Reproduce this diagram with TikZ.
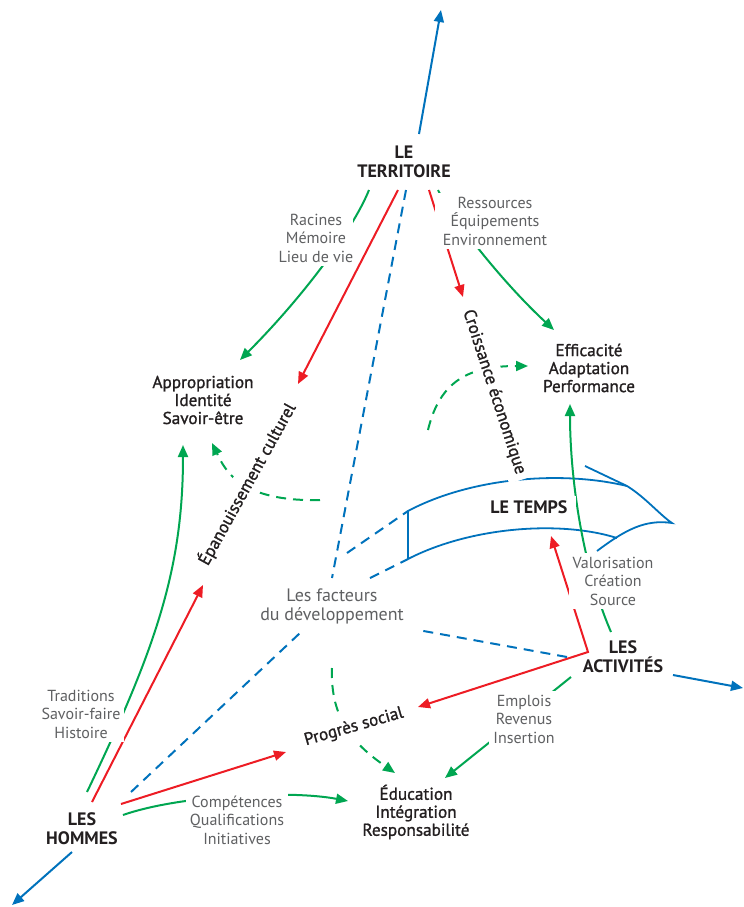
\documentclass[tikz,border=0pt]{standalone}
\usepackage{fontspec}
\setmainfont{PT Sans}
\newfontfamily\medfont[FakeBold=1.2]{PT Sans}
\usetikzlibrary{arrows.meta,calc,backgrounds}

\definecolor{rouge}{RGB}{237,28,36}
\definecolor{vert}{RGB}{0,166,81}
\definecolor{bleu}{RGB}{0,114,188}
\definecolor{noir}{RGB}{35,31,32}
\definecolor{gris}{RGB}{95,96,98}

\begin{document}
\begin{tikzpicture}[x=0.5pt,y=-0.5pt,
    pole/.style={font=\bfseries\fontsize{9}{9.5}\selectfont,text=noir,align=center,inner sep=1pt},
    valeur/.style={font=\medfont\fontsize{8.6}{9}\selectfont,text=noir,align=center,inner sep=1pt},
    axe/.style={valeur,fill=white,inner sep=3pt},
    note/.style={font=\fontsize{8}{9.25}\selectfont,text=gris,align=center,fill=white,inner sep=2pt},
    fl/.style={-{Triangle[length=6pt,width=5pt]}},
    rline/.style={draw=rouge,line width=1pt},
    gline/.style={draw=vert,line width=1pt},
    bline/.style={draw=bleu,line width=1pt},
    bdash/.style={bline,dash pattern=on 5pt off 3.5pt},
    gdash/.style={gline,dash pattern=on 5pt off 3.5pt},
    band/.style={draw=bleu,line width=0.9pt}]

    \useasboundingbox (0,0) rectangle (744,907);

    \node[pole] (T) at (404,162) {LE\\TERRITOIRE};
    \node[pole] (H) at (82,829) {LES\\HOMMES};
    \node[pole] (AC) at (623,657) {LES\\ACTIVITÉS};
    \node[pole,fill=white,inner xsep=4pt,inner ysep=2pt] (LT) at (529,507) {LE TEMPS};
    \node[font=\fontsize{9}{9.5}\selectfont,text=gris,align=center] (F) at (332,606) {Les facteurs\\du développement};

    \node[valeur] (AP) at (203,400) {Appropriation\\Identité\\Savoir-être};
    \node[valeur] (EF) at (589,368) {Efficacité\\Adaptation\\Performance};
    \node[valeur] (ED) at (416,812) {Éducation\\Intégration\\Responsabilité};

    \node[axe,rotate=61] (EP) at (247,484) {Épanouissement culturel};
    \node[axe,rotate=-72] (CR) at (494,392) {Croissance économique};
    \node[axe,rotate=16] (PS) at (354,727) {Progrès social};

    \node[note,inner xsep=0pt] (N1) at (316,238) {Racines\\Mémoire\\Lieu de vie};
    \node[note,inner xsep=4pt] (N2) at (495,221) {Ressources\\Équipements\\Environnement};
    \node[note] (N3) at (81,714) {Traditions\\Savoir-faire\\Histoire};
    \node[note] (N4) at (237,820) {Compétences\\Qualifications\\Initiatives};
    \node[note] (N5) at (524,719) {Emplois\\Revenus\\Insertion};
    \node[note] (N6) at (613,581) {Valorisation\\Création\\Source};

    \coordinate (up) at (441,10);
    \coordinate (down) at (12,905);
    \coordinate (right) at (743,688);

    %le temps
    \coordinate (BA) at (408,511);
    \coordinate (BB) at (408,559);
    \coordinate (BC) at (627,486);
    \coordinate (BD) at (585,466);
    \coordinate (BE) at (672,523);
    \coordinate (BF) at (617,538);
    \coordinate (BG) at (597,551);

    \begin{scope}[on background layer]
    \draw[band] (BB) -- (BA) .. controls (470,478) and (560,470) .. (BC);
    \draw[band] (BD) -- (BC) .. controls (645,497) and (660,515) .. (BE) .. controls (645,519) and (625,530) .. (BG);
    \draw[band] (BB) .. controls (470,527) and (560,520) .. (BF);

    %le territoire
    \draw[bline,fl] ($(T)+(15,-28)$) -- (up);
    \draw[gline,fl] ($(T)+(-35,28)$) .. controls ($(T)+(-52,70)$) and ($(AP)+(97,-100)$) .. ($(AP)+(37,-40)$);
    \draw[rline,fl] ($(T)+(-6,28)$) -- ($(EP)+(51,-100)$);
    \draw[bdash] ($(T)+(2,28)$) -- ($(F)+(0,-28)$);
    \draw[rline,fl] ($(T)+(25,28)$) -- ($(CR)+(-31,-95)$);
    \draw[gline,fl] ($(T)+(34,28)$) .. controls ($(T)+(46,53)$) and ($(EF)+(-89,-88)$) .. ($(EF)+(-35,-38)$);

    %les hommes
    \draw[bline,fl] ($(H)+(-10,23)$) -- (down);
    \draw[gline,fl] ($(H)+(5,-37)$) .. controls ($(H)+(73,-179)$) and ($(AP)+(-20,170)$) .. ($(AP)+(-20,45)$);
    \draw[rline,fl] ($(H)+(10,-27)$) -- ($(EP)+(-44,101)$);
    \draw[bdash] ($(H)+(49,-37)$) -- ($(F)+(-32,27)$);
    \draw[rline,fl] ($(H)+(39,-25)$) -- ($(PS)+(-68,25)$);
    \draw[gline,fl] ($(H)+(41,-14)$) .. controls ($(H)+(98,-34)$) and ($(ED)+(-126,-22)$) .. ($(ED)+(-68,-11)$);

    %les activites
    \draw[bline,fl] ($(AC)+(50,18)$) -- (right);
    \draw[rline,{Triangle[length=6pt,width=5pt]}-{Triangle[length=6pt,width=5pt]}] ($(LT)+(22,29)$) -- ($(AC)+(-35,-5)$) -- ($(PS)+(64,-20)$);
    \draw[bdash] ($(AC)+(-56,0)$) -- ($(F)+(86,24)$);
    \draw[gline,fl] ($(AC)+(-12,-25)$) .. controls ($(AC)+(-43,-97)$) and ($(EF)+(-19,102)$) .. ($(EF)+(-19,36)$);
    \draw[gline,fl] ($(AC)+(-52,20)$) -- ($(ED)+(29,-34)$);

    %facteurs
    \draw[bdash] ($(F)+(15,-53)$) -- (BA);
    \draw[bdash] ($(F)+(38,-28)$) -- (BB);
    \draw[gdash,fl] ($(F)+(-12,-106)$) .. controls ($(AP)+(37,102)$) and ($(AP)+(22,70)$) .. ($(AP)+(9,43)$);
    \draw[gdash,fl] ($(CR)+(-66,38)$) .. controls ($(CR)+(-54,-12)$) and ($(EF)+(-119,-2)$) .. ($(EF)+(-61,-2)$);
    \draw[gdash,fl] ($(F)+(0,62)$) .. controls ($(PS)+(-24,-7)$) and ($(ED)+(-61,-67)$) .. ($(ED)+(-21,-39)$);
    \end{scope}

\end{tikzpicture}
\end{document}
